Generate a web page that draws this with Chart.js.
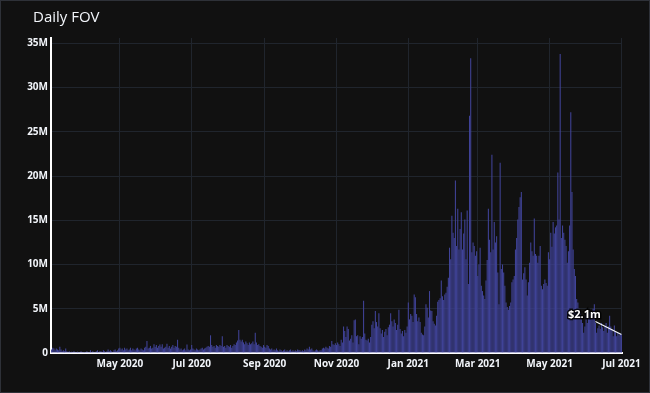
<!DOCTYPE html>
<html>
<head>
<meta charset="utf-8">
<script src="https://cdn.jsdelivr.net/npm/chart.js@4"></script>
<style>
  html, body { margin: 0; padding: 0; background: #111111; }
  canvas { display: block; }
</style>
</head>
<body>
<canvas id="fov" width="650" height="393"></canvas>
<script>
// first day of the series, one value per day after it
const startDay = "2020-03-04";

// daily FOV in millions of $
const fovMillions = [
  // Mar 2020
  0.4,0.6,0.5,0.3,0.5,0.4,0.3,0.7,0.4,0.2, 0.3,0.2,0.5,0.2,0.1,0.2,0.1,0.15,0.1,0.2, 0.1,0.1,0.15,0.1,0.1,0.2,0.1,0.1,
  // Apr 2020
  0.1,0.1,0.2,0.1,0.1,0.3,0.1,0.2,0.1,0.1, 0.2,0.3,0.1,0.2,0.2,0.1,0.3,0.2,0.1,0.2, 0.4,0.2,0.3,0.2,0.1,0.3,0.4,0.2,0.3,0.5,
  // May 2020
  0.6,0.4,0.5,0.3,0.6,0.4,0.5,0.3,0.4,0.6, 0.3,0.5,0.4,0.3,0.5,0.6,0.4,0.3,0.5,0.4, 0.3,0.6,0.7,1.35,0.5,0.6,0.8,0.5,0.6,1.0, 0.7,
  // Jun 2020
  0.9,0.6,0.8,0.95,0.7,1.0,0.5,0.6,0.7,1.05, 0.6,0.8,0.5,0.7,0.9,0.6,0.8,0.7,1.5,0.6, 0.4,0.5,0.3,0.4,0.5,0.3,0.95,0.4,0.3,0.4,
  // Jul 2020
  0.9,0.5,0.4,0.3,0.5,0.4,0.3,0.4,0.5,0.6, 0.4,0.5,0.6,0.7,0.8,0.7,2.0,0.9,0.7,0.8, 0.6,0.9,0.8,0.7,0.9,0.8,1.9,0.7,0.8,0.6, 0.9,
  // Aug 2020
  0.8,0.7,0.9,0.6,0.8,1.0,0.9,1.2,1.4,2.6, 1.5,1.3,1.5,1.2,1.0,1.3,1.1,0.9,1.2,1.0, 1.1,1.3,1.0,2.3,1.2,0.9,1.0,0.8,0.7,0.6, 0.9,
  // Sep 2020
  0.7,0.6,0.9,0.8,0.5,0.4,0.5,0.3,0.4,0.3, 0.5,0.3,0.2,0.4,0.3,0.2,0.3,0.4,0.2,0.3, 0.2,0.3,0.4,0.2,0.3,0.2,0.3,0.2,0.4,0.3,
  // Oct 2020
  0.3,0.2,0.3,0.2,0.4,0.3,0.5,0.4,0.7,0.4, 0.5,0.3,0.2,0.3,0.4,0.3,0.2,0.3,0.3,0.5, 0.6,0.5,0.7,0.6,0.5,0.8,0.7,1.35,1.0,0.9, 1.1,
  // Nov 2020
  0.9,1.2,1.0,0.8,1.5,1.2,3.0,2.5,1.8,3.0, 2.7,1.4,1.6,2.0,1.2,3.7,3.8,1.9,2.0,1.0, 1.9,1.6,1.8,5.9,2.2,1.5,1.4,1.6,1.2,1.8,
  // Dec 2020
  3.2,3.6,2.8,4.75,3.5,3.0,4.5,2.8,2.2,2.6, 1.8,2.4,2.7,2.0,2.9,3.2,4.5,3.6,3.0,3.8, 3.4,2.6,3.2,4.9,2.7,2.2,2.5,1.9,2.6,2.3, 3.0,
  // Jan 2021
  5.7,3.8,4.4,4.2,3.5,6.6,6.3,4.4,3.6,4.0, 3.5,2.3,2.1,2.0,3.0,5.5,5.1,4.0,7.0,4.8, 4.75,3.6,3.3,3.1,4.2,5.8,6.0,6.2,8.2,6.4, 6.0,
  // Feb 2021
  6.6,6.8,7.5,8.5,11.9,10.6,15.5,13.6,13.0,19.5, 12.1,16.3,11.7,14.0,15.9,11.7,13.5,15.1,10.6,16.1, 7.8,26.8,33.3,11.4,12.5,12.1,11.0,11.5,
  // Mar 2021
  8.7,10.0,11.9,7.6,7.0,6.5,6.1,8.2,10.5,16.3, 12.8,11.4,22.4,11.7,14.8,12.5,13.2,9.1,5.5,21.5, 9.5,10.0,9.1,7.6,5.7,5.2,4.9,5.3,5.7,8.0, 8.3,
  // Apr 2021
  8.7,11.7,13.0,15.1,16.5,17.6,18.2,8.3,9.0,9.7, 8.3,6.5,8.0,10.2,12.5,11.5,11.0,15.2,11.2,11.0, 10.2,11.0,12.1,7.6,7.2,7.8,8.3,7.9,7.6,11.4,
  // May 2021
  10.6,13.6,12.0,14.8,13.5,14.2,14.4,20.4,15.1,33.8, 13.0,14.4,13.6,12.8,12.1,10.2,11.5,14.4,27.2,18.2, 11.7,9.5,8.7,6.1,5.7,5.0,4.6,4.0,3.4,2.3, 3.0,
  // Jun 2021
  4.6,3.4,4.0,4.6,3.8,4.6,5.0,5.5,3.4,2.3, 2.8,3.1,2.7,3.4,2.9,2.5,3.0,3.4,2.3,3.0, 4.2,3.0,2.7,1.9,3.1,2.4,1.9,2.3,2.0,2.2,
  // Jul 2021
  2.1
];

const tickDates = ["2020-05-01", "2020-07-01", "2020-09-01", "2020-11-01", "2021-01-01", "2021-03-01", "2021-05-01", "2021-07-01"];
const tickLabels = ["May 2020", "Jul 2020", "Sep 2020", "Nov 2020", "Jan 2021", "Mar 2021", "May 2021", "Jul 2021"];

const yTicks = [0, 5, 10, 15, 20, 25, 30, 35];

const dayIndex = (d) => Math.round((Date.parse(d) - Date.parse(startDay)) / 86400000);

const points = fovMillions.map((v, i) => ({ x: i, y: v }));
const lastIdx = fovMillions.length - 1;
const lastVal = fovMillions[lastIdx];

const fontFam = '"Open Sans", "DejaVu Sans", sans-serif';

// background, frame and title
const frame = {
  id: "frame",
  beforeDraw(chart) {
    const c = chart.ctx;
    c.save();
    c.fillStyle = "#111111";
    c.fillRect(0, 0, chart.width, chart.height);
    c.strokeStyle = "#2e3138";
    c.lineWidth = 1;
    c.strokeRect(0.5, 0.5, chart.width - 1, chart.height - 1);
    c.font = "15px " + fontFam;
    c.fillStyle = "#f2f5fa";
    c.textBaseline = "middle";
    c.fillText("Daily FOV", 33, 18);
    c.restore();
  },
};

// "$2.1m" label pointing at the last bar
const lastNote = {
  id: "lastNote",
  afterDatasetsDraw(chart) {
    const c = chart.ctx;
    const px = chart.scales.x.getPixelForValue(lastIdx);
    const py = chart.scales.y.getPixelForValue(lastVal);
    const tx = px - 37, ty = py - 20;
    const txt = "$" + lastVal.toFixed(1) + "m";
    c.save();
    c.strokeStyle = "#f2f5fa";
    c.lineWidth = 1.2;
    c.beginPath();
    c.moveTo(px, py);
    c.lineTo(px - 26, py - 13);
    c.stroke();
    c.font = "bold 11px " + fontFam;
    c.textAlign = "center";
    c.textBaseline = "middle";
    c.lineWidth = 3;
    c.strokeStyle = "rgba(0,0,0,0.85)";
    c.strokeText(txt, tx, ty);
    c.fillStyle = "#ffffff";
    c.fillText(txt, tx, ty);
    c.restore();
  },
};

const ctx = document.getElementById("fov");
const myChart = new Chart(ctx, {
  type: "bar",
  data: {
    datasets: [
      {
        label: "FOV",
        data: points,
        backgroundColor: "rgb(64, 67, 152)",
        borderWidth: 0,
        barPercentage: 1,
        categoryPercentage: 0.9,
      },
    ],
  },
  options: {
    responsive: false,
    animation: false,
    layout: { padding: { left: 0, right: 28, top: 38, bottom: 0 } },
    plugins: {
      legend: { display: false },
      tooltip: { enabled: false },
    },
    scales: {
      x: {
        type: "linear",
        min: -0.5,
        max: lastIdx + 0.5,
        offset: false,
        grid: { color: "#20252d", offset: false, drawTicks: false },
        border: { display: true, color: "#ffffff", width: 2 },
        afterBuildTicks: (scale) => {
          scale.ticks = tickDates.map((d) => ({ value: dayIndex(d) }));
        },
        afterFit: (scale) => {
          scale.height = 40;
        },
        ticks: {
          autoSkip: false,
          maxRotation: 0,
          padding: 5,
          color: "#f2f5fa",
          font: { family: fontFam, size: 10, weight: "bold" },
          callback: (v, i) => tickLabels[i],
        },
      },
      y: {
        min: 0,
        max: 35.6,
        grid: { color: "#20252d", drawTicks: false },
        border: { display: true, color: "#ffffff", width: 2 },
        afterBuildTicks: (scale) => {
          scale.ticks = yTicks.map((v) => ({ value: v }));
        },
        afterFit: (scale) => {
          scale.width = 51;
        },
        ticks: {
          padding: 3,
          color: "#f2f5fa",
          font: { family: fontFam, size: 10, weight: "bold" },
          callback: (v) => (v === 0 ? "0" : v + "M"),
        },
      },
    },
  },
  plugins: [frame, lastNote],
});
</script>
</body>
</html>
